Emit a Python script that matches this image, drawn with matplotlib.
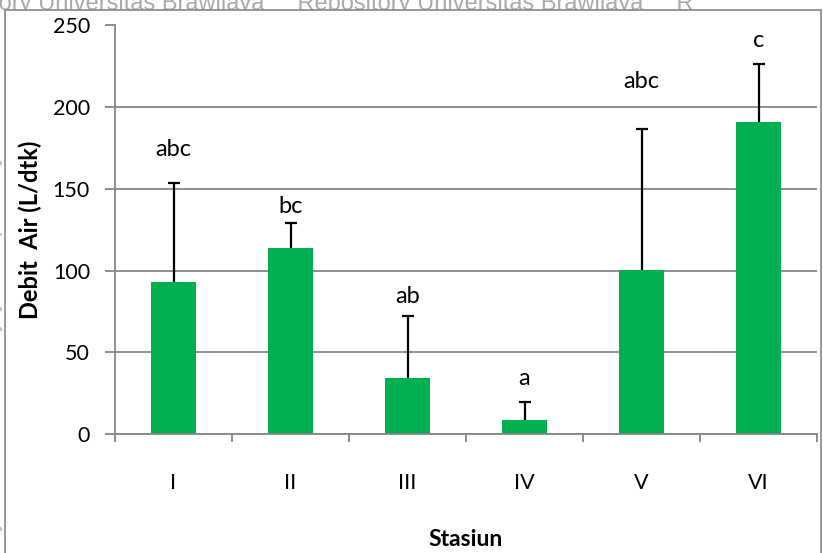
import numpy as np
import matplotlib.pyplot as plt
from matplotlib.patches import Rectangle

plt.rcParams['font.family'] = ['Lato', 'DejaVu Sans']

stasiun = ['I', 'II', 'III', 'IV', 'V', 'VI']
debit = [93.0, 113.8, 34.3, 8.6, 100.4, 190.9]
sd = [60.4, 15.5, 37.9, 11.2, 86.4, 35.5]
notasi = ['abc', 'bc', 'ab', 'a', 'abc', 'c']
# tinggi teks notasi di atas batang (satuan sumbu y)
notasi_y = [174, 139, 84, 33.7, 216, 241]

hijau = '#00B050'
abu = '#868686'

fig = plt.figure(figsize=(8.23, 5.53), dpi=100)

# tulisan repository di belakang bingkai grafik
fig.text(-0.01, 1.012, 'tory Universitas Brawijaya     Repository Universitas Brawijaya     R',
         fontsize=17, color='#aaaaaa', family='Liberation Sans', va='top', ha='left', zorder=-2)
fig.text(0.004, 0.5, 'Repository Universitas Brawijaya   Repository Universitas Brawijaya',
         fontsize=17, color='#b8b8b8', family='Liberation Sans', rotation=90,
         va='center', ha='right', zorder=-2)
fig.patches.append(Rectangle((5 / 823, -0.01), (821 - 5) / 823, 1 - 10 / 553 + 0.01,
                             transform=fig.transFigure, facecolor='white',
                             edgecolor=abu, linewidth=1.2, zorder=-1))

ax = fig.add_axes([115 / 823, 1 - 434 / 553, (817 - 115) / 823, (434 - 25.5) / 553])
ax.patch.set_alpha(0)

x = np.arange(len(stasiun))
# error bar di bawah batang, jadi hanya bagian atas yang terlihat
ax.errorbar(x, debit, yerr=sd, fmt='none', ecolor='black',
            elinewidth=1.6, capsize=4, capthick=1.6, zorder=1.5)
ax.bar(x, debit, width=0.39, color=hijau, zorder=2)

for xi, t, ty in zip(x, notasi, notasi_y):
    ax.text(xi, ty, t, ha='center', va='center', fontsize=17, color='black')

ax.set_xlim(-0.5, len(stasiun) - 0.5)
ax.set_ylim(0, 250)
ax.set_yticks(np.arange(0, 251, 50))
ax.yaxis.grid(True, color=abu, linewidth=1.3, zorder=0)
ax.set_axisbelow(True)

ax.set_xticks(x)
ax.set_xticklabels(stasiun)
ax.set_xticks(np.arange(-0.5, len(stasiun)), minor=True)
ax.tick_params(axis='x', which='major', length=0, pad=28, labelsize=15.5)
ax.tick_params(axis='x', which='minor', length=6, width=1.3, color=abu, direction='out')
ax.tick_params(axis='y', length=7, width=1.3, color=abu, pad=11, labelsize=15.5)

for s in ['top', 'right']:
    ax.spines[s].set_visible(False)
for s in ['left', 'bottom']:
    ax.spines[s].set_color(abu)
    ax.spines[s].set_linewidth(1.3)

ax.set_ylabel('Debit  Air (L/dtk)', fontsize=17, fontweight='bold', labelpad=8)
ax.set_xlabel('Stasiun', fontsize=16.5, fontweight='bold', labelpad=26)

fig.savefig('out.png', dpi=100)
